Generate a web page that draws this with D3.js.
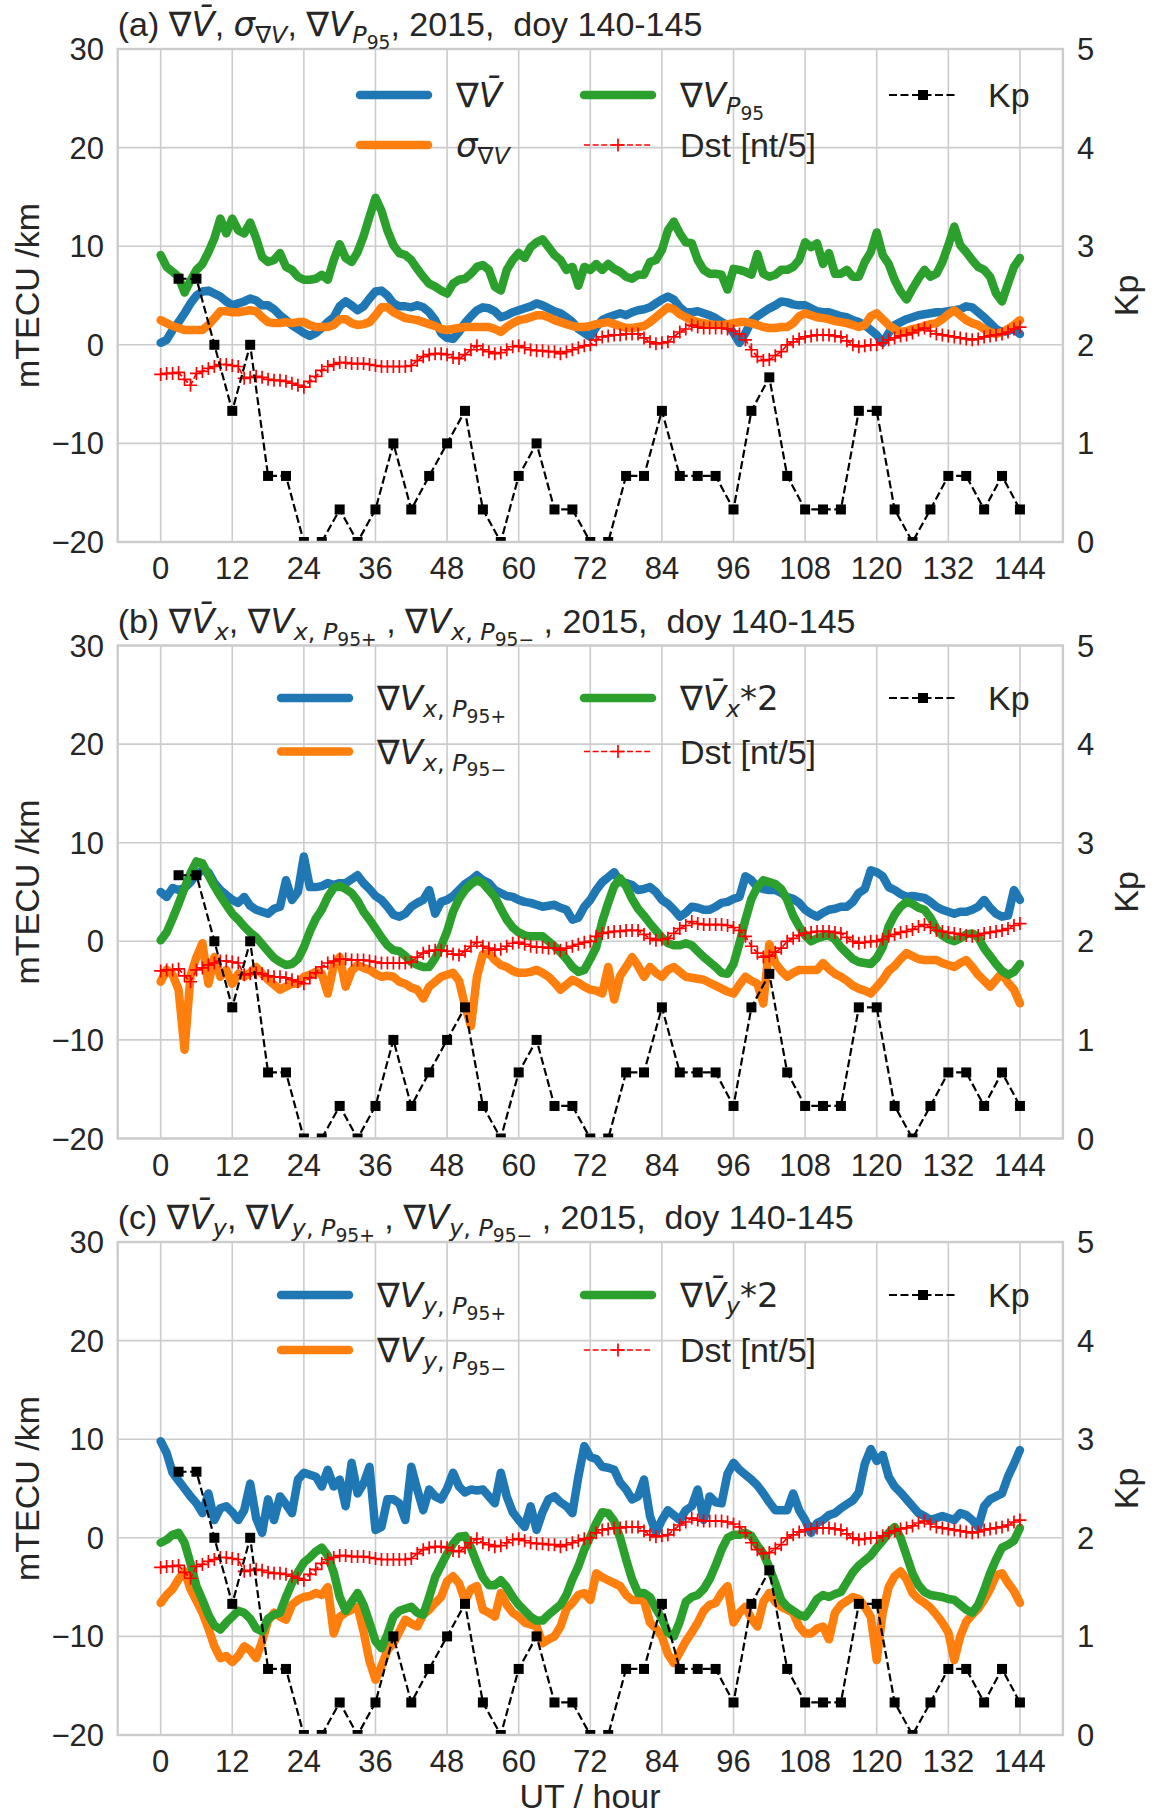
<!DOCTYPE html>
<meta charset="utf-8">
<style>
body { margin: 0; background: #fff; }
text { fill: #262626; font-family: "Liberation Sans", Arial, sans-serif; white-space: pre; }
.grid line { stroke: #cccccc; stroke-width: 1.6; }
.spine { fill: none; stroke: #cccccc; stroke-width: 2.4; }
</style>
<body>
<svg width="1156" height="1814"></svg>
<script src="https://d3js.org/d3.v7.min.js"></script>
<script>

// hour of each sample (UT hours since doy 140, 00 UT)
var hours = d3.range(0, 145);
var kpHours = d3.range(3, 145, 3);
var xTicks = [0, 12, 24, 36, 48, 60, 72, 84, 96, 108, 120, 132, 144];
var yTicks = [-20, -10, 0, 10, 20, 30];
var kpTicks = [0, 1, 2, 3, 4, 5];

var kp = [2.67,2.67,2.0,1.33,2.0,0.67,0.67,0,0,0.33,0,0.33,1.0,0.33,0.67,1.0,
  1.33,0.33,0,0.67,1.0,0.33,0.33,0,0,0.67,0.67,1.33,0.67,0.67,0.67,0.33,
  1.33,1.67,0.67,0.33,0.33,0.33,1.33,1.33,0.33,0,0.33,0.67,0.67,0.33,0.67,0.33];

// Dst / 5
var dst = [-3.0,-2.9,-2.9,-2.8,-3.5,-4.1,-2.9,-2.7,-2.4,-2.2,
  -2.0,-2.0,-2.1,-2.2,-3.4,-3.3,-3.2,-3.3,-3.5,-3.6,
  -3.6,-3.7,-3.9,-4.1,-4.3,-3.7,-3.2,-2.6,-2.2,-2.0,
  -1.8,-1.8,-1.9,-1.9,-1.9,-2.0,-2.1,-2.2,-2.2,-2.2,
  -2.2,-2.2,-2.1,-1.6,-1.2,-1.0,-0.9,-0.9,-1.0,-1.3,
  -1.4,-1.0,-0.5,-0.1,-0.5,-0.7,-0.9,-0.8,-0.5,-0.2,
  -0.1,-0.3,-0.5,-0.6,-0.6,-0.7,-0.7,-0.9,-0.7,-0.5,
  -0.3,-0.1,0.0,0.5,0.8,0.9,1.0,1.0,1.1,1.1,
  1.1,0.7,0.3,0.1,0.2,0.3,0.8,1.3,1.6,2.0,
  1.8,1.7,1.7,1.7,1.7,1.6,1.4,1.1,0.5,-0.5,
  -1.2,-1.6,-1.5,-1.1,-0.7,0.0,0.3,0.6,0.8,0.9,
  1.0,1.0,1.0,0.9,0.8,0.4,0.0,-0.2,-0.1,0.0,
  0.0,0.2,0.5,0.7,0.9,1.0,1.2,1.5,1.7,1.4,
  1.1,1.0,0.9,0.8,0.7,0.6,0.5,0.6,0.8,0.9,
  1.0,1.1,1.3,1.6,1.8];

// panel (a)
var gradMean = [0.2,0.5,1.5,2.3,3.2,4.2,5.0,5.4,5.5,5.2,
  4.9,4.4,4.0,4.2,4.4,4.7,4.5,4.0,4.0,3.6,
  3.0,2.5,2.0,1.6,1.2,0.9,1.2,1.7,2.3,2.8,
  3.9,4.4,4.0,3.5,3.9,4.7,5.4,5.5,5.0,4.2,
  3.9,3.9,3.8,4.0,3.8,3.3,2.5,1.2,0.7,0.6,
  1.3,2.2,2.9,3.5,3.8,3.7,3.4,2.8,3.0,3.3,
  3.5,3.7,3.9,4.2,4.0,3.7,3.4,3.2,2.8,2.3,
  1.6,1.2,0.8,1.8,2.5,2.8,3.0,3.2,3.0,3.3,
  3.5,3.6,3.8,4.2,4.6,4.9,4.6,3.8,3.3,3.3,
  3.4,3.2,3.0,2.7,2.3,2.0,1.2,0.2,1.2,2.4,
  2.9,3.3,3.7,4.0,4.4,4.3,4.1,4.0,4.0,3.7,
  3.4,3.3,3.3,3.1,2.9,2.8,2.5,2.3,2.0,1.5,
  1.0,0.2,1.2,2.0,2.3,2.6,2.8,3.0,3.1,3.2,
  3.3,3.3,3.4,3.5,3.6,3.9,3.8,3.3,2.8,2.2,
  1.6,1.3,1.4,1.6,1.1];
var gradSigma = [2.5,2.2,1.9,1.7,1.5,1.5,1.5,1.5,2.0,2.7,
  3.4,3.4,3.3,3.3,3.4,3.5,3.4,2.8,2.3,2.2,
  2.2,2.3,2.2,2.3,2.3,2.0,1.8,1.8,1.8,2.0,
  2.6,2.6,2.2,2.0,2.1,2.3,3.0,3.8,3.8,3.3,
  3.0,2.7,2.6,2.5,2.3,2.1,1.9,1.6,1.5,1.6,
  1.7,1.8,1.8,1.8,1.8,1.8,1.6,1.3,1.8,2.2,
  2.5,2.6,2.8,3.0,3.0,2.8,2.5,2.3,2.1,1.9,
  1.8,1.8,1.9,2.1,2.2,2.3,2.1,1.9,1.7,1.7,
  1.8,1.9,2.3,2.8,3.3,3.8,3.6,3.1,2.8,2.5,
  2.3,2.2,2.1,2.0,2.0,2.1,2.2,2.3,2.3,2.2,
  2.0,1.8,1.7,1.7,1.8,1.8,2.2,2.9,3.2,3.0,
  2.8,2.7,2.6,2.4,2.3,2.2,2.0,1.8,2.0,2.9,
  3.2,2.6,2.0,1.6,1.3,1.4,1.6,1.7,1.9,2.1,
  2.2,2.6,3.1,3.5,3.0,2.5,2.2,2.0,1.6,1.3,
  1.1,1.3,1.6,2.0,2.5];
var gradP95 = [9.1,7.9,7.4,6.9,5.3,6.5,7.6,8.2,9.4,10.8,
  12.8,11.3,12.8,11.6,11.3,12.4,10.8,8.9,8.4,8.6,
  9.3,7.9,7.6,6.9,6.6,6.6,6.7,7.1,6.6,8.6,
  10.2,8.8,8.4,9.4,11.0,13.0,14.9,13.6,11.6,10.1,
  9.3,9.1,8.6,7.7,6.9,6.2,5.9,5.5,5.2,6.2,
  6.6,6.7,7.2,7.9,8.1,7.6,5.9,5.5,7.6,8.6,
  9.3,8.8,9.9,10.4,10.7,9.9,9.1,8.6,7.6,7.9,
  6.0,7.9,7.6,8.2,7.6,8.2,7.7,7.4,6.9,6.7,
  7.1,7.1,8.4,8.6,9.6,11.6,12.5,11.3,10.4,10.3,
  8.6,7.6,7.2,7.2,7.1,5.6,7.7,7.6,7.4,7.1,
  9.2,7.2,6.9,7.1,7.6,7.6,7.9,8.6,10.4,9.9,
  10.3,8.2,9.3,7.2,7.2,7.6,6.9,6.9,8.4,9.4,
  11.4,9.1,8.2,6.6,5.4,4.6,5.7,6.7,7.6,6.9,
  7.2,8.4,10.1,12.0,10.1,9.4,8.6,7.9,7.6,6.9,
  5.2,4.4,6.2,7.9,8.8];

// panel (b)
var xP95plus = [5.0,4.5,5.4,5.2,5.4,6.0,6.8,7.2,7.0,5.9,
  5.2,4.7,4.2,3.9,4.5,3.6,3.2,3.0,2.8,3.3,
  3.5,6.2,4.2,5.0,8.6,5.5,5.5,5.6,5.9,5.7,
  5.9,5.9,6.3,6.7,5.9,5.3,4.6,4.2,3.5,2.7,
  2.5,2.8,3.5,3.9,4.2,5.2,2.8,4.0,4.2,4.6,
  5.2,5.8,6.2,6.7,6.2,5.9,5.2,4.9,4.6,4.5,
  4.2,4.0,3.9,3.7,3.5,3.6,3.7,3.4,3.2,2.2,
  2.4,3.5,4.2,5.2,6.0,6.5,7.0,6.0,5.9,5.7,
  5.2,5.3,5.5,5.0,4.2,3.8,3.2,2.5,2.9,3.5,
  3.4,3.2,3.2,3.5,3.9,4.0,4.3,4.5,6.6,6.2,
  5.5,5.3,5.2,5.2,4.9,4.5,4.3,3.9,3.2,2.8,
  2.5,2.9,3.2,3.3,3.5,3.5,4.0,4.9,5.3,7.2,
  7.0,6.6,5.5,5.2,4.8,4.5,4.6,4.5,4.4,4.0,
  3.5,3.2,3.0,2.8,3.0,3.0,3.2,3.5,4.2,3.4,
  2.8,2.5,2.6,5.2,4.2];
var xP95minus = [-4.1,-2.9,-3.4,-4.9,-11.0,-3.5,-1.6,-0.2,-4.3,-1.6,
  -3.6,-2.9,-4.3,-3.3,-3.6,-3.2,-2.6,-3.3,-3.9,-4.4,
  -4.9,-4.6,-4.3,-4.3,-3.6,-3.4,-3.1,-3.3,-5.3,-2.5,
  -1.6,-4.6,-3.0,-2.4,-2.7,-2.9,-3.3,-3.6,-3.5,-3.6,
  -4.1,-4.3,-4.7,-4.9,-5.8,-4.6,-4.1,-3.6,-3.4,-3.2,
  -4.0,-6.5,-8.6,-3.6,-1.3,-1.2,-1.9,-2.4,-2.6,-3.0,
  -3.2,-3.2,-3.1,-2.9,-3.2,-3.6,-4.2,-4.9,-4.4,-3.9,
  -4.2,-4.6,-4.9,-5.0,-5.3,-2.6,-5.9,-3.5,-2.6,-1.6,
  -2.5,-3.6,-2.6,-3.2,-3.6,-2.9,-2.6,-3.1,-3.6,-3.7,
  -3.8,-3.9,-4.2,-4.5,-4.8,-5.1,-5.3,-4.4,-3.6,-4.0,
  -4.3,-6.3,-0.3,-2.2,-3.0,-3.6,-3.2,-2.9,-2.9,-2.9,
  -2.9,-2.2,-2.8,-3.3,-3.6,-4.0,-4.5,-4.8,-5.0,-5.3,
  -4.6,-3.9,-3.0,-2.5,-1.8,-1.2,-1.5,-1.8,-1.9,-1.9,
  -1.9,-2.2,-2.4,-2.6,-2.2,-1.9,-2.6,-3.4,-4.0,-4.6,
  -3.9,-3.2,-4.2,-4.9,-6.3];
var xMean2 = [0.1,0.9,2.3,3.8,5.4,6.9,8.1,7.9,6.7,5.6,
  4.6,3.7,2.8,2.2,1.5,0.9,0.4,-0.3,-1.0,-1.7,
  -2.1,-2.4,-2.3,-1.8,-0.6,1.0,2.3,3.2,4.5,5.4,
  5.6,5.3,4.9,4.1,3.0,2.2,1.3,0.4,-0.4,-0.9,
  -1.0,-1.5,-2.1,-2.4,-2.6,-2.6,-1.7,-0.5,1.0,3.0,
  4.3,5.2,5.8,6.2,5.9,5.2,4.5,3.3,2.2,1.4,
  0.9,0.6,0.5,0.5,0.5,0.0,-0.5,-1.1,-1.8,-2.6,
  -3.1,-2.9,-1.8,-0.6,2.0,3.9,5.6,6.4,5.6,4.3,
  3.3,2.6,1.8,1.1,0.4,-0.2,-0.4,-0.4,-0.2,-0.4,
  -1.0,-1.6,-2.1,-2.6,-3.2,-3.3,-2.3,-0.2,2.2,4.3,
  5.5,6.2,6.0,5.8,5.3,4.2,2.6,1.5,0.6,0.0,
  0.3,0.5,0.6,0.2,-0.6,-1.2,-1.8,-2.1,-2.2,-2.3,
  -1.7,-0.6,1.5,2.7,3.5,4.0,3.8,3.4,3.2,2.4,
  1.3,0.6,0.2,0.0,0.3,0.7,0.8,0.4,-0.7,-1.5,
  -2.3,-3.0,-3.4,-3.1,-2.3];

// panel (c)
var yP95plus = [9.8,8.6,6.6,5.8,5.0,4.2,3.5,2.5,4.5,1.8,
  3.0,3.2,2.6,1.8,2.8,5.5,2.0,0.5,3.9,1.8,
  4.2,3.4,2.5,5.9,6.6,6.4,6.2,5.2,6.9,5.2,
  5.9,3.2,7.6,4.5,5.5,7.2,0.8,1.1,3.9,3.9,
  3.5,1.8,7.2,4.9,2.8,4.9,4.2,3.9,5.0,6.6,
  5.2,4.6,4.9,4.8,4.9,4.2,3.5,6.6,4.2,2.6,
  1.8,1.1,3.2,0.8,2.6,3.9,4.2,3.6,3.2,2.5,
  6.2,9.3,8.2,8.0,7.2,7.1,6.9,5.6,4.9,3.9,
  4.2,5.9,2.2,0.5,1.8,2.8,2.3,1.8,2.8,3.2,
  4.9,1.8,4.2,3.6,3.5,6.5,7.6,6.9,6.4,5.9,
  5.3,4.5,3.6,2.8,2.8,2.8,4.5,2.8,1.8,0.5,
  1.5,1.8,2.3,2.5,3.0,3.4,3.8,4.6,7.5,9.0,
  7.8,8.4,6.2,5.2,4.6,3.9,3.2,2.5,2.2,1.8,
  2.0,2.2,2.0,1.8,2.5,2.3,1.8,1.1,3.2,3.9,
  4.2,4.5,6.2,7.5,8.9];
var yP95minus = [-6.6,-5.8,-5.2,-4.2,-3.4,-5.2,-6.4,-7.6,-9.2,-11.0,
  -12.2,-12.0,-12.6,-12.0,-11.0,-11.4,-12.2,-10.5,-8.4,-7.6,
  -8.0,-8.3,-6.8,-6.3,-6.0,-5.9,-5.6,-5.8,-5.0,-9.7,
  -8.0,-7.6,-7.3,-7.0,-9.5,-12.5,-14.4,-13.0,-11.4,-10.7,
  -9.5,-8.3,-8.7,-9.0,-7.8,-7.3,-6.6,-6.0,-4.4,-3.9,
  -4.6,-6.4,-5.2,-4.9,-7.3,-7.6,-8.0,-5.6,-6.8,-7.6,
  -8.0,-8.6,-8.8,-9.0,-10.7,-10.3,-10.0,-9.0,-7.2,-6.6,
  -5.8,-5.6,-6.3,-3.6,-4.0,-4.3,-4.6,-4.9,-5.8,-6.3,
  -6.3,-6.4,-8.6,-9.2,-10.0,-11.8,-12.7,-11.6,-10.5,-9.6,
  -8.6,-7.4,-6.8,-6.6,-5.6,-4.9,-8.6,-7.6,-7.0,-8.2,
  -9.0,-6.5,-5.6,-6.5,-7.0,-7.3,-7.6,-9.0,-9.7,-9.7,
  -9.2,-9.0,-10.3,-7.6,-6.8,-6.4,-6.0,-6.2,-7.0,-8.0,
  -12.4,-7.6,-5.0,-3.9,-3.4,-4.2,-5.6,-6.2,-6.6,-7.1,
  -7.8,-8.6,-9.6,-12.4,-10.0,-8.5,-7.8,-7.2,-6.3,-5.2,
  -3.8,-3.6,-4.6,-5.4,-6.6];
var yMean2 = [-0.5,-0.2,0.3,0.5,-0.5,-2.6,-4.9,-6.3,-7.8,-8.9,
  -9.3,-8.6,-8.0,-7.4,-7.6,-8.2,-9.2,-9.5,-8.2,-7.8,
  -7.6,-6.0,-4.6,-3.5,-2.5,-2.0,-1.4,-1.0,-1.8,-3.5,
  -6.0,-7.4,-6.5,-5.6,-6.8,-8.6,-10.5,-11.2,-9.8,-8.0,
  -7.4,-7.2,-7.0,-7.6,-7.8,-6.0,-4.0,-2.8,-1.6,-0.6,
  0.1,0.2,-1.0,-2.6,-4.0,-4.8,-4.8,-4.3,-5.0,-6.0,
  -6.8,-7.4,-8.0,-8.4,-8.4,-7.8,-7.3,-6.8,-5.8,-4.2,
  -2.9,-1.2,0.1,1.5,2.6,2.5,1.7,0.0,-2.2,-4.2,
  -5.6,-5.6,-6.0,-7.2,-8.2,-9.6,-10.0,-8.5,-6.5,-6.0,
  -5.8,-5.2,-4.2,-2.8,-1.2,0.0,0.3,0.3,0.5,0.2,
  -0.8,-1.6,-3.0,-4.6,-6.3,-7.0,-7.4,-7.8,-8.0,-7.2,
  -6.2,-5.8,-6.0,-5.7,-5.5,-4.5,-3.5,-2.8,-2.3,-1.8,
  -1.0,-0.3,0.5,1.1,0.0,-1.8,-3.6,-4.8,-5.5,-5.8,
  -5.9,-6.0,-6.2,-6.3,-6.8,-7.3,-7.6,-6.8,-5.3,-3.6,
  -2.2,-1.0,-0.7,-0.3,1.0];

var BLUE = "#1f77b4", ORANGE = "#ff7f0e", GREEN = "#2ca02c";

// rich text parts: [text, kind, level]  kind r=regular, m=math upright, i=math italic
var titleA = [["(a) ","r"],["∇","m"],["V\u0304","i"],[", ","r"],["σ","i"],["∇","m",1],["V","i",1],[", ","r"],
  ["∇","m"],["V","i"],["P","i",1],["95","m",2],[", 2015,  doy 140-145","r"]];
var titleB = [["(b) ","r"],["∇","m"],["V\u0304","i"],["x","i",1],[", ","r"],["∇","m"],["V","i"],["x","i",1],[", ","m",1],["P","i",1],["95+","m",2],
  [" , ","r"],["∇","m"],["V","i"],["x","i",1],[", ","m",1],["P","i",1],["95−","m",2],[" , 2015,  doy 140-145","r"]];
var titleC = [["(c) ","r"],["∇","m"],["V\u0304","i"],["y","i",1],[", ","r"],["∇","m"],["V","i"],["y","i",1],[", ","m",1],["P","i",1],["95+","m",2],
  [" , ","r"],["∇","m"],["V","i"],["y","i",1],[", ","m",1],["P","i",1],["95−","m",2],[" , 2015,  doy 140-145","r"]];

var panels = [
  {top: 49, title: titleA, titleY: 36, rows: [46, 96], col1: 456,
   series: [
     {v: gradMean, c: BLUE, lab: [["∇","m"],["V\u0304","i"]]},
     {v: gradSigma, c: ORANGE, lab: [["σ","i"],["∇","m",1],["V","i",1]]},
     {v: gradP95, c: GREEN, lab: [["∇","m"],["V","i"],["P","i",1],["95","m",2]]}]},
  {top: 645.5, title: titleB, titleY: 633, rows: [52.5, 106], col1: 377,
   series: [
     {v: xP95plus, c: BLUE, lab: [["∇","m"],["V","i"],["x","i",1],[", ","m",1],["P","i",1],["95+","m",2]]},
     {v: xP95minus, c: ORANGE, lab: [["∇","m"],["V","i"],["x","i",1],[", ","m",1],["P","i",1],["95−","m",2]]},
     {v: xMean2, c: GREEN, lab: [["∇","m"],["V\u0304","i"],["x","i",1],["*2","m"]]}]},
  {top: 1242, title: titleC, titleY: 1229, rows: [53, 108], col1: 377,
   series: [
     {v: yP95plus, c: BLUE, lab: [["∇","m"],["V","i"],["y","i",1],[", ","m",1],["P","i",1],["95+","m",2]]},
     {v: yP95minus, c: ORANGE, lab: [["∇","m"],["V","i"],["y","i",1],[", ","m",1],["P","i",1],["95−","m",2]]},
     {v: yMean2, c: GREEN, lab: [["∇","m"],["V\u0304","i"],["y","i",1],["*2","m"]]}]}
];

var svg = d3.select("svg");
var H = 493;
var LW = 8.5;
var x = d3.scaleLinear().domain([-7.2, 151.2]).range([117.7, 1062.9]);

function rich(sel, parts, size) {
  var offs = [0, 0.22, 0.38], scales = [1, 0.7, 0.55];
  var prev = 0;
  parts.forEach(function(p) {
    var lvl = p[2] || 0;
    var off = offs[lvl] * size;
    var ts = sel.append("tspan").text(p[0])
      .attr("dy", off - prev)
      .style("font-size", (size * scales[lvl]) + "px");
    if (p[1] != "r") ts.style("font-family", "DejaVu Sans");
    if (p[1] == "i") ts.style("font-style", "italic");
    prev = off;
  });
}

function fmt(d) { return d < 0 ? "\u2212" + Math.abs(d) : "" + d; }

var plus = "M-6.5,0H6.5M0,-6.5V6.5";

panels.forEach(function(p, pi) {
  var top = p.top, bot = top + H;
  var y = d3.scaleLinear().domain([-20, 30]).range([bot, top]);
  var y2 = d3.scaleLinear().domain([0, 5]).range([bot, top]);
  var g = svg.append("g");

  svg.append("clipPath").attr("id", "clip" + pi)
    .append("rect").attr("x", x.range()[0]).attr("y", top)
    .attr("width", x.range()[1] - x.range()[0]).attr("height", H);

  var grid = g.append("g").attr("class", "grid");
  grid.selectAll(".gx").data(xTicks).enter().append("line")
    .attr("x1", d => x(d)).attr("x2", d => x(d)).attr("y1", top).attr("y2", bot);
  grid.selectAll(".gy").data(yTicks).enter().append("line")
    .attr("x1", x.range()[0]).attr("x2", x.range()[1]).attr("y1", d => y(d)).attr("y2", d => y(d));

  var plot = g.append("g").attr("clip-path", "url(#clip" + pi + ")");
  var line = d3.line().x((d, i) => x(hours[i])).y(d => y(d));
  p.series.forEach(function(s) {
    plot.append("path").datum(s.v).attr("d", line)
      .attr("fill", "none").attr("stroke", s.c).attr("stroke-width", LW)
      .attr("stroke-linejoin", "round").attr("stroke-linecap", "round");
  });
  // Dst
  plot.append("path").datum(dst).attr("d", line)
    .attr("fill", "none").attr("stroke", "red").attr("stroke-width", 1.7)
    .attr("stroke-dasharray", "6,2.6");
  plot.selectAll(".dst").data(dst).enter().append("path")
    .attr("d", plus).attr("transform", (d, i) => "translate(" + x(hours[i]) + "," + y(d) + ")")
    .attr("stroke", "red").attr("stroke-width", 1.7);

  // spines
  g.append("rect").attr("class", "spine").attr("x", x.range()[0]).attr("y", top)
    .attr("width", x.range()[1] - x.range()[0]).attr("height", H);

  // Kp on twin axis
  var kpLine = d3.line().x((d, i) => x(kpHours[i])).y(d => y2(d));
  plot.append("path").datum(kp).attr("d", kpLine)
    .attr("fill", "none").attr("stroke", "#000").attr("stroke-width", 2.2)
    .attr("stroke-dasharray", "8,3.5");
  plot.selectAll(".kp").data(kp).enter().append("rect")
    .attr("x", (d, i) => x(kpHours[i]) - 5).attr("y", d => y2(d) - 5)
    .attr("width", 10).attr("height", 10).attr("fill", "#000");

  // tick labels
  g.selectAll(".xt").data(xTicks).enter().append("text")
    .attr("x", d => x(d)).attr("y", bot + 37).attr("text-anchor", "middle")
    .style("font-size", "31px").text(d => d);
  g.selectAll(".yt").data(yTicks).enter().append("text")
    .attr("x", 104).attr("y", d => y(d) + 11).attr("text-anchor", "end")
    .style("font-size", "31px").text(fmt);
  g.selectAll(".kt").data(kpTicks).enter().append("text")
    .attr("x", 1077).attr("y", d => y2(d) + 11)
    .style("font-size", "31px").text(d => d);

  g.append("text").attr("transform", "translate(39," + (top + H / 2) + ") rotate(-90)")
    .attr("text-anchor", "middle").style("font-size", "34px").text("mTECU /km");
  g.append("text").attr("transform", "translate(1138," + (top + H / 2) + ") rotate(-90)")
    .attr("text-anchor", "middle").style("font-size", "34px").text("Kp");

  // title
  rich(g.append("text").attr("x", 117.7).attr("y", p.titleY).style("font-size", "34px"), p.title, 34);

  // legend, three columns
  var leg = g.append("g");
  var r1 = top + p.rows[0], r2 = top + p.rows[1];
  var items = [
    {tx: p.col1, y: r1, s: p.series[0]},
    {tx: p.col1, y: r2, s: p.series[1]},
    {tx: 680, y: r1, s: p.series[2]}
  ];
  items.forEach(function(it) {
    leg.append("line").attr("x1", it.tx - 96).attr("x2", it.tx - 28).attr("y1", it.y).attr("y2", it.y)
      .attr("stroke", it.s.c).attr("stroke-width", LW).attr("stroke-linecap", "round");
    rich(leg.append("text").attr("x", it.tx).attr("y", it.y + 12).style("font-size", "34px"), it.s.lab, 34);
  });
  // Dst handle
  leg.append("line").attr("x1", 584).attr("x2", 652).attr("y1", r2).attr("y2", r2)
    .attr("stroke", "red").attr("stroke-width", 1.7).attr("stroke-dasharray", "6,2.6");
  leg.append("path").attr("d", plus).attr("transform", "translate(618," + r2 + ")")
    .attr("stroke", "red").attr("stroke-width", 1.7);
  leg.append("text").attr("x", 680).attr("y", r2 + 12).style("font-size", "34px").text("Dst [nt/5]");
  // Kp handle
  leg.append("line").attr("x1", 889).attr("x2", 957).attr("y1", r1).attr("y2", r1)
    .attr("stroke", "#000").attr("stroke-width", 2.2).attr("stroke-dasharray", "8,3.5");
  leg.append("rect").attr("x", 918).attr("y", r1 - 5).attr("width", 10).attr("height", 10).attr("fill", "#000");
  leg.append("text").attr("x", 988).attr("y", r1 + 12).style("font-size", "34px").text("Kp");
});

svg.append("text").attr("x", 590).attr("y", 1808).attr("text-anchor", "middle")
  .style("font-size", "34px").text("UT / hour");

</script>
</body>
